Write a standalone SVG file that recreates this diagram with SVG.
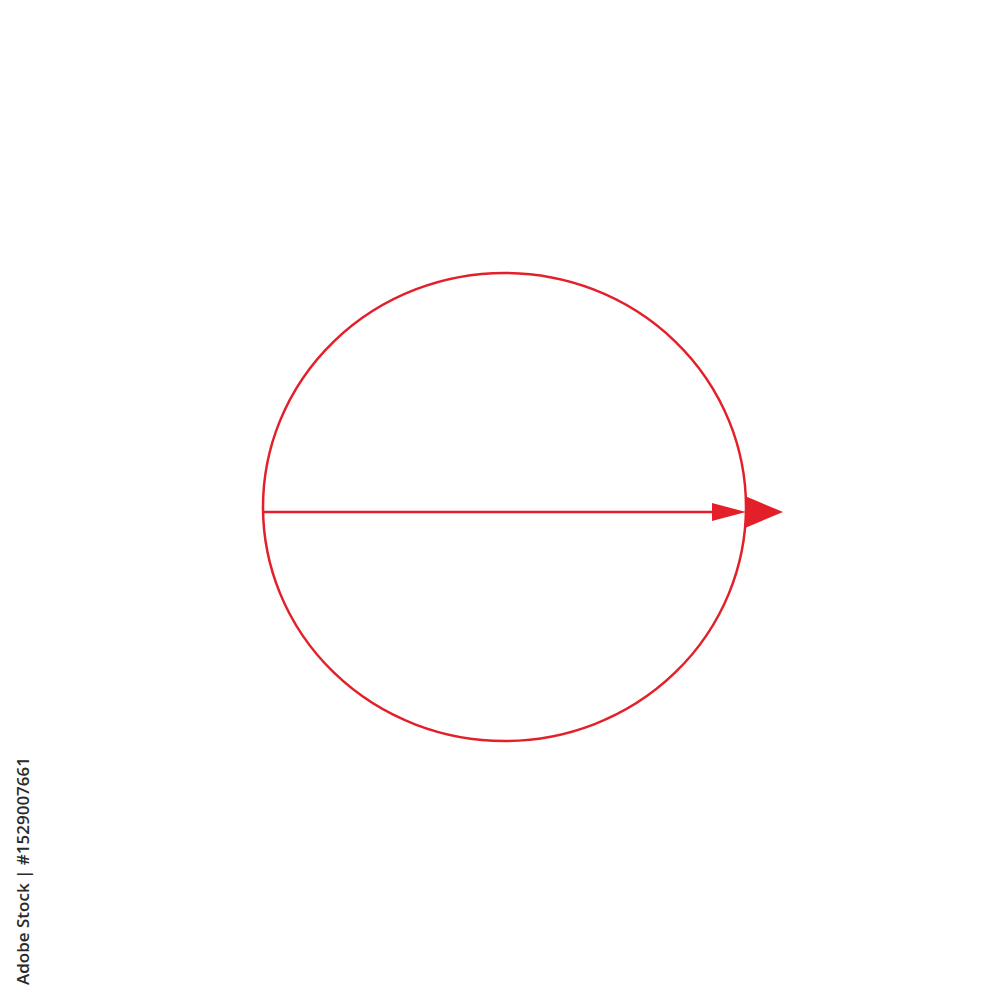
<svg xmlns="http://www.w3.org/2000/svg" width="1000" height="1000" viewBox="0 0 1000 1000">
<style>
.red{stroke:#e3202a;stroke-width:2.5;fill:none}
.head{fill:#e3202a;stroke:none}
.wm{font-family:"Open Sans","Noto Sans",sans-serif;font-size:17px;font-weight:600;fill:#2a2a2a}
</style>
<rect width="1000" height="1000" fill="#ffffff"/>
<g id="circle">
<ellipse class="red" cx="504.5" cy="507" rx="241.5" ry="234"/>
</g>
<g id="connectors">
<line class="red" x1="263" y1="512" x2="714" y2="512"/>
<polygon class="head" points="712,503 746,512 712,521"/>
<polygon class="head" points="745,496 783,512 745,528"/>
</g>
<text class="wm" transform="translate(29,985) rotate(-90)" textLength="228" lengthAdjust="spacingAndGlyphs">Adobe Stock | #1529007661</text>
</svg>
